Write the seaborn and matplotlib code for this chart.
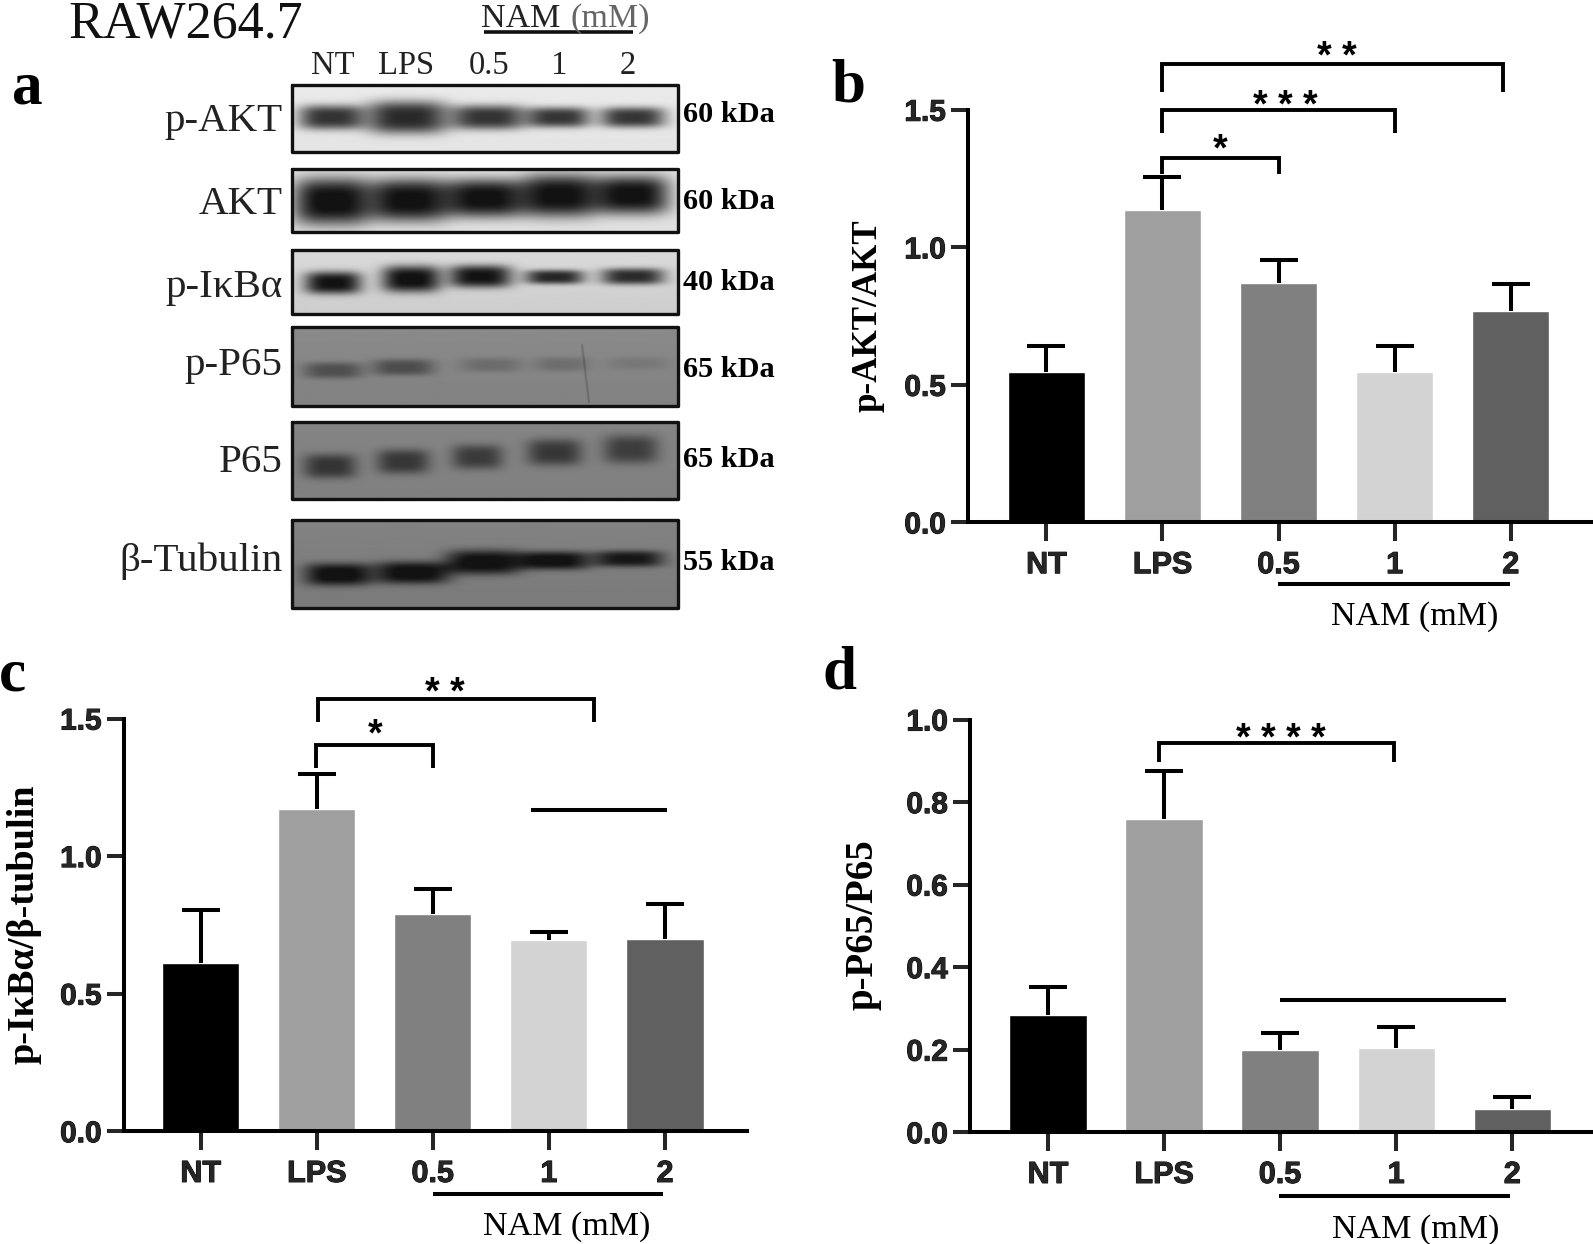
import numpy as np
import pandas as pd
import matplotlib
matplotlib.use("Agg")
import matplotlib.pyplot as plt
import matplotlib.patheffects as pe
import seaborn as sns

W, H = 1593, 1244
SX, SY = 1568.0, 1224.0

categories = ["NT", "LPS", "0.5", "1", "2"]
bar_colors = ["#000000", "#9f9f9f", "#808080", "#d3d3d3", "#606060"]

akt_means = [0.545, 1.135, 0.87, 0.548, 0.77]
akt_tops = [0.64, 1.255, 0.955, 0.64, 0.865]
ikb_means = [0.61, 1.17, 0.79, 0.695, 0.70]
ikb_tops = [0.805, 1.30, 0.88, 0.725, 0.825]
p65_means = [0.285, 0.76, 0.20, 0.205, 0.057]
p65_tops = [0.352, 0.875, 0.24, 0.255, 0.085]

blot_names = ["p-AKT", "AKT", "p-IκBα", "p-P65", "P65", "β-Tubulin"]
blot_kda = ["60 kDa", "60 kDa", "40 kDa", "65 kDa", "65 kDa", "55 kDa"]
blot_name_y = [120, 201, 283, 360, 455, 552]
blot_kda_y = [113, 198, 278, 364, 452, 553]
blot_top = [84, 166, 246, 322, 415, 512]
blot_bottom = [150, 228, 309, 399, 491, 598]
blot_bg = [234, 228, 218, 138, 132, 130]
blot_bg_bottom = [228, 224, 205, 130, 128, 122]
# band centre x, half width (px), centre y as fraction of the box, half height (px), darkness
blot_bands = [
    [(325, 32, .49, 12, 180), (400, 40, .49, 16, 190), (480, 36, .49, 12, 180), (549, 31, .49, 10, 178), (622, 32, .49, 10, 178)],
    [(326, 38, .52, 23, 215), (402, 39, .50, 21, 212), (477, 39, .47, 19, 212), (550, 37, .43, 21, 212), (621, 37, .42, 19, 212)],
    [(327, 28, .52, 11, 195), (404, 29, .46, 13, 200), (472, 31, .42, 11, 195), (545, 29, .43, 7, 175), (622, 31, .42, 8, 170)],
    [(327, 29, .55, 8, 55), (396, 30, .51, 8, 58), (482, 30, .48, 7, 26), (552, 27, .47, 7, 24), (627, 29, .46, 6, 15)],
    [(324, 26, .58, 12, 78), (396, 26, .52, 12, 76), (469, 25, .46, 12, 72), (545, 27, .40, 13, 76), (620, 27, .36, 14, 70)],
    [(332, 33, .62, 11, 115), (405, 37, .60, 11, 115), (475, 37, .48, 12, 115), (544, 36, .46, 9, 115), (618, 34, .44, 8, 105)],
]
blot_lanes = ["NT", "LPS", "0.5", "1", "2"]
blot_lane_x = [328, 400, 481, 550, 618]

sns.set_style("white")
plt.rcParams["font.family"] = ["Liberation Sans", "DejaVu Sans"]
SERIF = ["Liberation Serif", "DejaVu Serif"]
LW = 2.9
HEAVY = [pe.withStroke(linewidth=0.7, foreground="black")]

fig = plt.figure(figsize=(W / 100, H / 100), dpi=100, facecolor="white")
ov = fig.add_axes([0, 0, 1, 1], zorder=5)
ov.set_xlim(0, SX)
ov.set_ylim(SY, 0)
ov.axis("off")
ov.patch.set_alpha(0)


def txt(x, y, s, size, weight="normal", color="black", ha="center", va="center", family=SERIF, **kw):
    return ov.text(x, y, s, fontsize=size, fontweight=weight, color=color, ha=ha, va=va, family=family, **kw)


def bar_panel(left, right, y0, ytop, ymax, x0, means, tops, yticks, fmt, ylabel, ylabel_x, ylabel_size):
    step = 114.25
    ax = fig.add_axes([left / SX, 1 - y0 / SY, (right - left) / SX, (y0 - ytop) / SY], zorder=2)
    ax.patch.set_alpha(0)
    df = pd.DataFrame({"group": categories, "value": means})
    sns.barplot(data=df, x="group", y="value", hue="group", order=categories, hue_order=categories,
                palette=bar_colors, saturation=1, width=0.665, errorbar=None, legend=False, ax=ax)
    xs = np.arange(len(categories))
    m = np.array(means)
    _, caps, _ = ax.errorbar(xs, m, yerr=[np.zeros_like(m), np.array(tops) - m], fmt="none", ecolor="black",
                             elinewidth=LW, capsize=13.5, capthick=LW, clip_on=False, zorder=3)
    caps[0].set_visible(False)
    ax.set_xlim((left - x0) / step, (right - x0) / step)
    ax.set_ylim(0, ymax)
    ax.set_yticks(yticks)
    ax.set_yticklabels([fmt % v for v in yticks], fontsize=21.5, fontweight="bold")
    ax.set_xticks(xs)
    ax.set_xticklabels(categories, fontsize=22, fontweight="bold")
    for lab in ax.get_xticklabels() + ax.get_yticklabels():
        lab.set_path_effects(HEAVY)
    ax.set_xlabel("")
    ax.set_ylabel("")
    for s in ("top", "right"):
        ax.spines[s].set_visible(False)
    for s in ("left", "bottom"):
        ax.spines[s].set_linewidth(LW)
        ax.spines[s].set_color("black")
    ax.tick_params(axis="y", length=12, width=LW, pad=4, left=True)
    ax.tick_params(axis="x", length=14, width=LW, pad=6, bottom=True)
    txt(ylabel_x, (y0 + ytop) / 2 + ((y0 + ytop) / 2 > 800) * -1, ylabel, ylabel_size, weight="bold", rotation=90)
    return ax


def bracket(ax, x1, x2, y, leg1, leg2):
    ax.plot([x1, x1, x2, x2], [leg1, y, y, leg2], color="black", lw=2.8, clip_on=False,
            solid_joinstyle="miter", solid_capstyle="butt", zorder=4)


def hline(ax, x1, x2, y):
    ax.plot([x1, x2], [y, y], color="black", lw=2.9, clip_on=False, solid_capstyle="butt", zorder=4)


def stars(x, y, n):
    txt(x, y + 8, " ".join("*" * n), 27, weight="bold", family=["Liberation Sans", "DejaVu Sans"])


# panel b
ax_b = bar_panel(953, 1566, 514, 108, 1.5, 1030, akt_means, akt_tops, [0, .5, 1, 1.5], "%.1f", "p-AKT/AKT", 854, 25.2)
bracket(ax_b, 1, 3.93, 1.666, 1.566, 1.566)
bracket(ax_b, 1, 3, 1.50, 1.415, 1.415)
bracket(ax_b, 1, 2, 1.326, 1.267, 1.267)
stars(1316, 49, 2)
stars(1265, 97, 3)
stars(1201, 140, 1)
ov.plot([1258, 1486], [575, 575], color="black", lw=2.9, solid_capstyle="butt")
txt(1392, 607, "NAM (mM)", 24.5)

# panel c
ax_c = bar_panel(122, 735, 1113, 707, 1.5, 197.5, ikb_means, ikb_tops, [0, .5, 1, 1.5], "%.1f", "p-IκBα/β-tubulin", 24, 27.5)
bracket(ax_c, 1.015, 3.387, 1.570, 1.489, 1.489)
bracket(ax_c, 0.99, 2, 1.404, 1.319, 1.319)
hline(ax_c, 2.845, 4.02, 1.167)
stars(438, 675, 2)
stars(369, 716, 1)
ov.plot([426, 653], [1175, 1175], color="black", lw=2.9, solid_capstyle="butt")
txt(558, 1207, "NAM (mM)", 24.5)

# panel d
ax_d = bar_panel(955, 1566, 1114, 708, 1.0, 1031.5, p65_means, p65_tops, [0, .2, .4, .6, .8, 1.0], "%.1f", "p-P65/P65", 849, 28)
bracket(ax_d, 0.956, 2.98, 0.943, 0.897, 0.897)
hline(ax_d, 2.0, 3.95, 0.32)
stars(1261, 720, 4)
ov.plot([1259, 1486], [1177, 1177], color="black", lw=2.9, solid_capstyle="butt")
txt(1393, 1210, "NAM (mM)", 24.5)

# panel a: blots
L, R = 287, 667
ax_blot = fig.add_axes([0, 0, 1, 1], zorder=1)
ax_blot.axis("off")
for i, name in enumerate(blot_names):
    t, b = blot_top[i], blot_bottom[i]
    xx, yy = np.meshgrid(np.arange(L, R + 1.0), np.arange(t, b + 1.0))
    img = np.linspace(blot_bg[i], blot_bg_bottom[i], xx.shape[0])[:, None] * np.ones_like(xx)
    for cx, hw, fy, hh, dark in blot_bands[i]:
        cy = t + fy * (b - t)
        d = np.abs((xx - cx) / hw) ** 3.5 + np.abs((yy - cy) / hh) ** 3.2
        img = np.maximum(img - dark * np.exp(-d), 18)
    if name == "p-P65":
        sx = 572 + (yy - t) * 0.12 - 2
        img = img - 35 * np.exp(-((xx - sx) / 0.8) ** 2) * (yy > t + 16) * (yy < b - 2)
    ax_blot.imshow(img, cmap="gray", vmin=0, vmax=255, extent=[L, R, b, t], aspect="auto",
                   interpolation="bilinear", zorder=1)
    ax_blot.plot([L, R, R, L, L], [t, t, b, b, t], color="#111111", lw=2.4, zorder=2)
    txt(278, blot_name_y[i], name, 29.5, ha="right", color="#222222")
    txt(672, blot_kda_y[i], blot_kda[i], 21.8, weight="bold", ha="left")
ax_blot.set_xlim(0, SX)
ax_blot.set_ylim(SY, 0)

for lab, x in zip(blot_lanes, blot_lane_x):
    txt(x, 65, lab, 23.5, color="#222222")
txt(67, 24, "RAW264.7", 37.5, ha="left", color="#111111")
txt(473, 18, "NAM", 24.5, ha="left", color="#222222")
txt(562, 18, "(mM)", 24.5, ha="left", color="#666666")
ov.plot([476, 623], [31, 31], color="#111111", lw=2.6, solid_capstyle="butt")

txt(27, 87, "a", 44, weight="bold")
txt(835, 85, "b", 44, weight="bold")
txt(12, 665, "c", 44, weight="bold")
txt(826, 663, "d", 44, weight="bold")

fig.savefig("out.png", dpi=100, facecolor="white")
